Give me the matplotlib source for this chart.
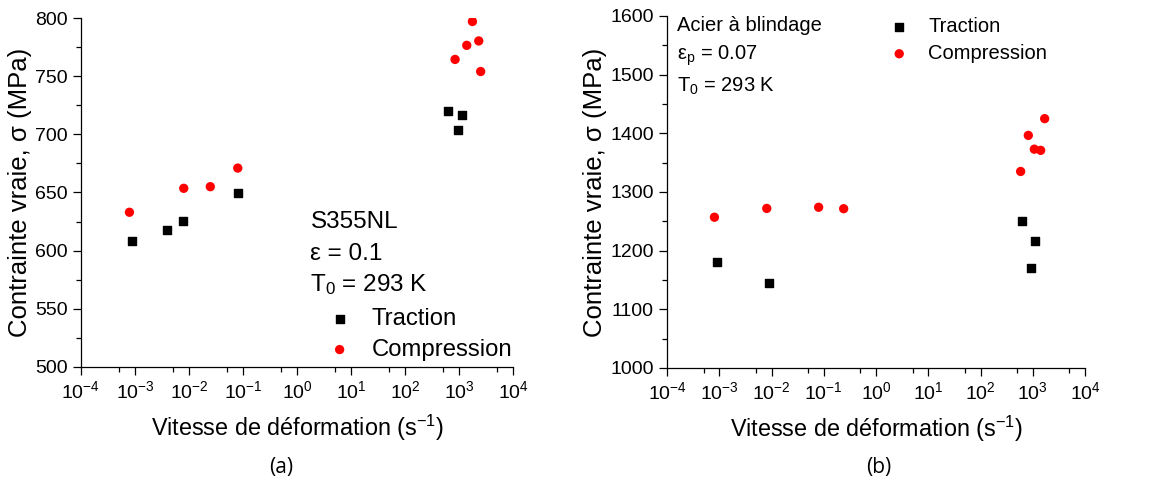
import matplotlib
matplotlib.use('Agg')
import matplotlib.pyplot as plt
from matplotlib.ticker import LogLocator, MultipleLocator, LogFormatterMathtext

plt.rcParams['font.family'] = ['Liberation Sans', 'DejaVu Sans']
plt.rcParams['mathtext.default'] = 'regular'

# (a) S355NL
a_trac_rate = [8.7e-4, 4.0e-3, 7.8e-3, 0.081, 630, 1120, 960]
a_trac_stress = [608, 618, 625.5, 649.6, 720, 717, 704]
a_comp_rate = [7.9e-4, 8.0e-3, 0.0248, 0.080, 843, 1387, 1766, 2312, 2510]
a_comp_stress = [633, 653.6, 655, 671, 764.4, 776.5, 797, 780.3, 754]

# (b) Acier a blindage
b_trac_rate = [8.95e-4, 9.0e-3, 620, 1084, 908]
b_trac_stress = [1180, 1145, 1250, 1216, 1170]
b_comp_rate = [8.07e-4, 8.1e-3, 0.0796, 0.24, 585, 820, 1069, 1413, 1686]
b_comp_stress = [1257, 1272, 1274, 1271.5, 1335, 1396.5, 1373, 1371, 1425]


def style_axis(ax, ylim, ymajor, yminor):
    ax.set_xscale('log')
    ax.set_xlim(1e-4, 1e4)
    ax.set_ylim(*ylim)
    ax.xaxis.set_major_locator(LogLocator(base=10, numticks=20))
    ax.xaxis.set_minor_locator(LogLocator(base=10, subs=[5], numticks=20))
    ax.xaxis.set_major_formatter(LogFormatterMathtext())
    ax.yaxis.set_major_locator(MultipleLocator(ymajor))
    ax.yaxis.set_minor_locator(MultipleLocator(yminor))
    for side in ['top', 'right']:
        ax.spines[side].set_visible(False)
    for side in ['left', 'bottom']:
        ax.spines[side].set_linewidth(0.9)
    ax.tick_params(which='major', direction='out', length=6, width=0.9, labelsize=14)
    ax.tick_params(which='minor', direction='out', length=3.5, width=0.9)
    ax.set_xlabel('Vitesse de déformation (s$^{-1}$)', fontsize=16.8, labelpad=8)
    ax.set_ylabel('Contrainte vraie, σ (MPa)', fontsize=18.5, labelpad=2)


fig = plt.figure(figsize=(11.68, 4.83), dpi=100)

axA = fig.add_axes([0.0693, 0.2402, 0.370, 0.7225])
axA.scatter(a_trac_rate, a_trac_stress, marker='s', s=30, color='black', label='Traction', zorder=3)
axA.scatter(a_comp_rate, a_comp_stress, marker='o', s=45, color='red', edgecolors='none', label='Compression', zorder=3)
style_axis(axA, (500, 800), 50, 25)
axA.text(0.531, 0.415, 'S355NL', transform=axA.transAxes, fontsize=17.5, va='center')
axA.text(0.531, 0.325, 'ε = 0.1', transform=axA.transAxes, fontsize=17.5, va='center')
axA.text(0.531, 0.235, 'T$_0$ = 293 K', transform=axA.transAxes, fontsize=17.5, va='center')
axA.legend(loc='upper left', bbox_to_anchor=(0.535, 0.195), frameon=False, fontsize=17.2,
           handletextpad=0.6, labelspacing=0.35, borderaxespad=0, handlelength=1.5)

axB = fig.add_axes([0.5711, 0.2381, 0.3579, 0.7288])
axB.scatter(b_trac_rate, b_trac_stress, marker='s', s=30, color='black', label='Traction', zorder=3)
axB.scatter(b_comp_rate, b_comp_stress, marker='o', s=45, color='red', edgecolors='none', label='Compression', zorder=3)
style_axis(axB, (1000, 1600), 100, 50)
axB.text(0.024, 0.973, 'Acier à blindage', transform=axB.transAxes, fontsize=14.5, va='center')
axB.text(0.024, 0.888, 'ε$_p$ = 0.07', transform=axB.transAxes, fontsize=14.5, va='center')
axB.text(0.024, 0.800, 'T$_0$ = 293 K', transform=axB.transAxes, fontsize=14.5, va='center')
axB.legend(loc='upper left', bbox_to_anchor=(0.50, 1.02), frameon=False, fontsize=14.5,
           handletextpad=0.7, labelspacing=0.4, borderaxespad=0, handlelength=1.5)

fig.text(281 / 1168, 1 - 468 / 483, '(a)', fontsize=15, ha='center', va='center', family='Open Sans')
fig.text(879 / 1168, 1 - 468 / 483, '(b)', fontsize=15, ha='center', va='center', family='Open Sans')

fig.savefig('out.png', dpi=100)
